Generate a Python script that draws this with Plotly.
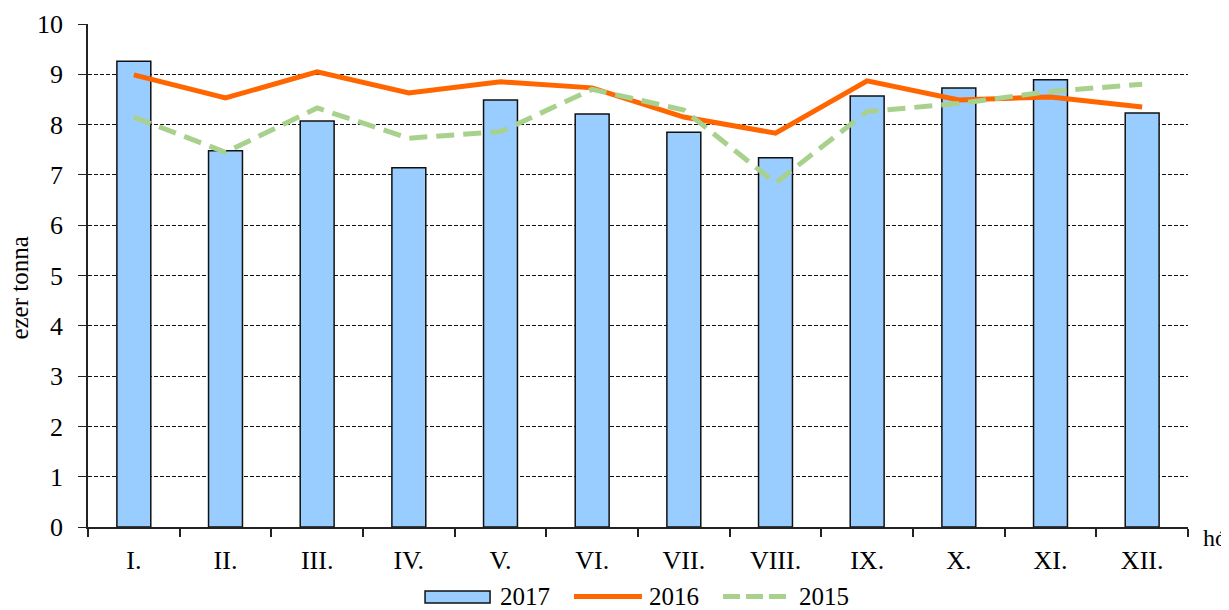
import plotly.graph_objects as go

months = ["I.", "II.", "III.", "IV.", "V.", "VI.", "VII.", "VIII.", "IX.", "X.", "XI.", "XII."]
v2017 = [9.26, 7.48, 8.07, 7.14, 8.49, 8.21, 7.85, 7.34, 8.57, 8.73, 8.89, 8.23]
v2016 = [8.99, 8.53, 9.05, 8.63, 8.85, 8.73, 8.15, 7.83, 8.87, 8.49, 8.55, 8.35]
v2015 = [8.15, 7.45, 8.33, 7.73, 7.86, 8.70, 8.29, 6.84, 8.26, 8.42, 8.66, 8.80]
series_names = ["2017", "2016", "2015"]

FONT = "Liberation Serif, Times New Roman, serif"
FS = 26
BAR_COLOR = "#99CCFF"
C2016 = "#FF6600"
C2015 = "#A9D18E"
GREEN_DASH = "18px,9px"

fig = go.Figure()
fig.add_trace(go.Bar(x=months, y=v2017, name=series_names[0], showlegend=False,
                     marker=dict(color=BAR_COLOR, line=dict(color="#111111", width=1.5))))
fig.add_trace(go.Scatter(x=months, y=v2016, name=series_names[1], mode="lines", showlegend=False,
                         line=dict(color=C2016, width=5)))
fig.add_trace(go.Scatter(x=months, y=v2015, name=series_names[2], mode="lines", showlegend=False,
                         line=dict(color=C2015, width=5, dash=GREEN_DASH)))

fig.update_layout(
    width=1229, height=610,
    margin=dict(l=80, r=49, t=16, b=91, autoexpand=False),
    plot_bgcolor="white", paper_bgcolor="white",
    font=dict(family=FONT, size=FS, color="black"),
    bargap=0.63,
    showlegend=False,
    xaxis=dict(showline=True, linecolor="#222222", linewidth=1.5, ticks="outside",
               tickson="boundaries", ticklen=8, tickwidth=1.5, tickcolor="#222222", showgrid=False,
               automargin=False, ticklabelstandoff=9, tickfont=dict(family=FONT, size=FS)),
    yaxis=dict(range=[0, 10], dtick=1, showline=True, linecolor="#222222", linewidth=1.5,
               ticks="outside", ticklen=8, tickwidth=1.2, tickcolor="#222222",
               showgrid=True, gridcolor="#111111", griddash="4px,2px", gridwidth=1,
               zeroline=False, automargin=False, ticklabelstandoff=10,
               tickfont=dict(family=FONT, size=FS)),
)

fig.add_annotation(text="ezer tonna", xref="paper", yref="paper", x=-0.0618, y=0.474,
                   xanchor="center", yanchor="middle", textangle=-90, showarrow=False,
                   borderpad=0, font=dict(family=FONT, size=25))
fig.add_annotation(text="hó", xref="paper", yref="paper", x=1.0118, y=-0.022,
                   xanchor="left", yanchor="middle", showarrow=False,
                   font=dict(family=FONT, size=24))

ly = -0.1382
fig.add_shape(type="rect", xref="paper", yref="paper", x0=0.3064, x1=0.3655,
              y0=-0.1272, y1=-0.1511, fillcolor=BAR_COLOR, line=dict(color="#111111", width=1.5))
fig.add_shape(type="line", xref="paper", yref="paper", x0=0.4418, x1=0.5036, y0=ly, y1=ly,
              line=dict(color=C2016, width=5))
fig.add_shape(type="line", xref="paper", yref="paper", x0=0.5773, x1=0.6355, y0=ly, y1=ly,
              line=dict(color=C2015, width=5, dash="17px,6px"))
for name, xpos in zip(series_names, [0.3727, 0.5082, 0.6445]):
    fig.add_annotation(text=name, xref="paper", yref="paper", x=xpos, y=ly,
                       xanchor="left", yanchor="middle", showarrow=False,
                       font=dict(family=FONT, size=25))

fig.write_html("out.html")
